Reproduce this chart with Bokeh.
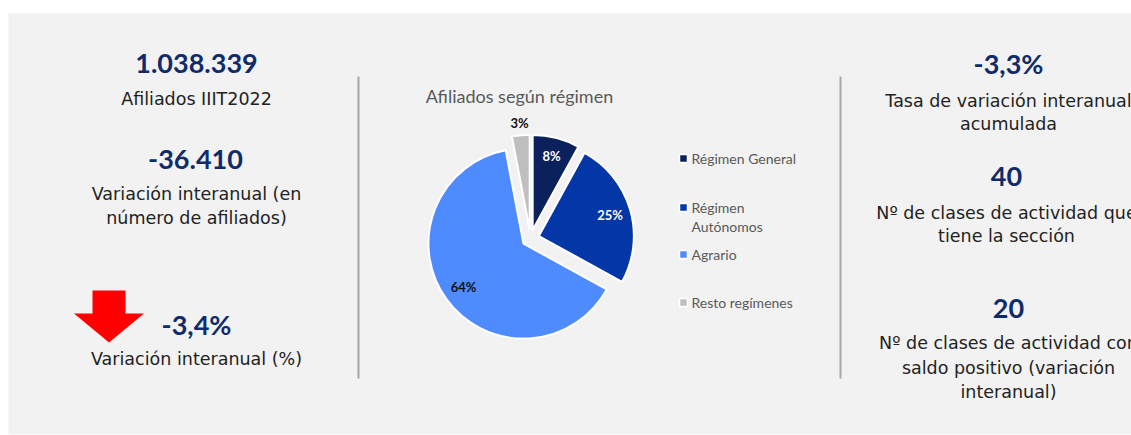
import math
from bokeh.plotting import figure
from bokeh.models import Range1d
from bokeh.core.properties import value
from bokeh.embed import file_html
from bokeh.resources import INLINE

# ---------------- data ----------------
categories = ["Régimen General", "Régimen Autónomos", "Agrario", "Resto regímenes"]
legend_lines = [["Régimen General"], ["Régimen", "Autónomos"], ["Agrario"], ["Resto regímenes"]]
shares = [8, 25, 64, 3]
slice_colors = ["#0A215C", "#0336A6", "#4D8BFF", "#BFBFBF"]
label_colors = ["white", "white", "#111111", "#111111"]
pie_title = "Afiliados según régimen"

left_values = ["1.038.339", "-36.410", "-3,4%"]
left_labels = [["Afiliados IIIT2022"],
               ["Variación interanual (en", "número de afiliados)"],
               ["Variación interanual (%)"]]
right_values = ["-3,3%", "40", "20"]
right_labels = [["Tasa de variación interanual", "acumulada"],
                ["Nº de clases de actividad que", "tiene la sección"],
                ["Nº de clases de actividad con", "saldo positivo (variación", "interanual)"]]

# ---------------- layout ----------------
W, H = 1131, 435
def Y(s):  # screen y -> data y
    return H - s

p = figure(width=W, height=H, output_backend="svg", toolbar_location=None,
           x_range=Range1d(0, W), y_range=Range1d(0, H),
           min_border=0, border_fill_color="white", background_fill_color="white")
p.axis.visible = False
p.grid.visible = False
p.outline_line_color = None

NAVY = "#0F2B6B"
BODY = "#222222"

# panel
p.quad(left=8, right=1140, top=Y(13), bottom=Y(434), fill_color="#F2F2F2", line_color=None)

# separators
for sx in (358, 840):
    p.segment(x0=sx, y0=Y(76), x1=sx, y1=Y(378), line_color="#A6A6A6", line_width=2)

def big(txt, x, sy):
    p.text(x=[x], y=[Y(sy)], text=[txt], text_align="center", text_baseline="middle",
           text_font=value("Lato"), text_font_style="bold", text_font_size="27px",
           text_color=NAVY)

def body(lines, x, sys_):
    p.text(x=[x] * len(lines), y=[Y(s) for s in sys_], text=lines, text_align="center",
           text_baseline="middle", text_font=value("DejaVu Sans"), text_font_size="17.5px",
           text_color=BODY)

# left column
big(left_values[0], 196, 63)
body(left_labels[0], 196, [98])
big(left_values[1], 195, 159)
body(left_labels[1], 196, [193, 217])
big(left_values[2], 196, 324)
body(left_labels[2], 196, [358])

# red arrow (decoration)
ax, top_, shaft_w, head_w, head_y, tip_y = 108.5, 290, 33, 70, 313, 342
p.patch(x=[ax - shaft_w / 2, ax + shaft_w / 2, ax + shaft_w / 2, ax + head_w / 2, ax,
           ax - head_w / 2, ax - shaft_w / 2],
        y=[Y(top_), Y(top_), Y(head_y), Y(head_y), Y(tip_y), Y(head_y), Y(head_y)],
        fill_color="#FF0000", line_color=None)

# right column
big(right_values[0], 1008, 63)
body(right_labels[0], 1008, [100, 123])
big(right_values[1], 1006, 176)
body(right_labels[1], 1006, [212, 235])
big(right_values[2], 1008, 308)
body(right_labels[2], 1008, [342, 367, 391])

# pie
cx, cy, r, d = 530, Y(238), 95, 8.7
total = float(sum(shares))
cum = 0.0
label_r = [0.80, 0.78, 0.78, 1.13]
for i, v in enumerate(shares):
    a0 = cum / total * 360.0
    cum += v
    a1 = cum / total * 360.0
    mid = math.radians((a0 + a1) / 2)
    ox, oy = cx + d * math.sin(mid), cy + d * math.cos(mid)
    p.wedge(x=[ox], y=[oy], radius=r, radius_units="screen",
            start_angle=math.radians(90 - a1), end_angle=math.radians(90 - a0),
            direction="anticlock", fill_color=slice_colors[i], line_color="white",
            line_width=2)
    lr = label_r[i] * r
    p.text(x=[ox + lr * math.sin(mid)], y=[oy + lr * math.cos(mid)], text=[f"{v}%"],
           text_align="center", text_baseline="middle", text_font=value("Lato"),
           text_font_style="bold", text_font_size="13px", text_color=label_colors[i])

p.text(x=[519], y=[Y(95)], text=[pie_title], text_align="center", text_baseline="middle",
       text_font=value("Lato"), text_font_size="18px", text_color="#595959")

# legend
leg_y = [158, 207, 254, 302]
for i, lines in enumerate(legend_lines):
    p.scatter(x=[683], y=[Y(leg_y[i])], marker="square", size=8,
              fill_color=slice_colors[i], line_color="white", line_width=1.5)
    p.text(x=[691] * len(lines), y=[Y(leg_y[i] + 19 * k) for k in range(len(lines))],
           text=lines, text_align="left", text_baseline="middle", text_font=value("Lato"),
           text_font_size="14px", text_color="#595959")

open("out.html", "w").write(file_html(p, INLINE))
